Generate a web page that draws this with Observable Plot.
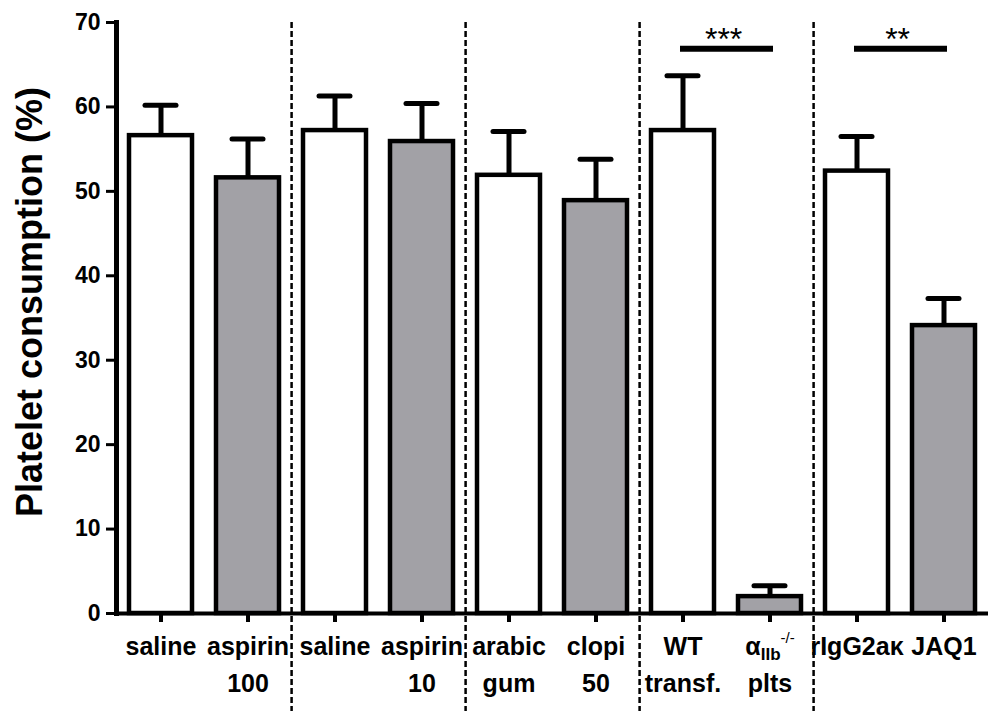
<!DOCTYPE html>
<html>
<head>
<meta charset="utf-8">
<script src="https://cdn.jsdelivr.net/npm/d3@7"></script>
<script src="https://cdn.jsdelivr.net/npm/@observablehq/plot@0.6"></script>
<style>
  html, body { margin: 0; padding: 0; background: #fff; }
  svg { font-family: "Liberation Sans", Arial, Helvetica, sans-serif; }
</style>
</head>
<body>
<div id="chart"></div>
<script>
// ---- data ----
const keys    = ["s1", "a100", "s2", "a10", "ag", "c50", "wt", "aIIb", "igg", "jaq1"];
const labels  = ["saline", "aspirin\n100", "saline", "aspirin\n10", "arabic\ngum", "clopi\n50", "WT\ntransf.", "αIIb-/-\nplts", "rIgG2aκ", "JAQ1"];
const means   = [56.6, 51.6, 57.2, 55.9, 51.9, 48.9, 57.2, 2.0, 52.4, 34.1];
const sems    = [3.6, 4.6, 4.1, 4.5, 5.2, 4.9, 6.5, 1.3, 4.1, 3.2];
const groups  = ["control", "treated", "control", "treated", "control", "treated", "control", "treated", "control", "treated"];
const separatorsAfter = ["a100", "a10", "c50", "aIIb"];
const sigFrom  = ["wt", "igg"];
const sigTo    = ["aIIb", "jaq1"];
const sigLevel = [66.9, 66.9];
const sigStars = ["***", "**"];
const starLevel = [66.8, 66.8];
const yTicks  = [0, 10, 20, 30, 40, 50, 60, 70];

// ---- tables built from the arrays ----
const bars = keys.map((k, i) => ({key: k, mean: means[i], upper: means[i] + sems[i], group: groups[i]}));
const sigs = sigFrom.map((f, i) => ({from: f, to: sigTo[i], y: sigLevel[i], starY: starLevel[i], stars: sigStars[i]}));
const labelOf = new Map(keys.map((k, i) => [k, labels[i]]));

const W = 995, H = 711, mL = 116, mR = 7, mT = 22, mB = 98;
const step = (W - mL - mR) / keys.length;

const chart = Plot.plot({
  width: W,
  height: H,
  marginLeft: mL,
  marginRight: mR,
  marginTop: mT,
  marginBottom: mB,
  style: {background: "white", color: "black", fontFamily: "Liberation Sans, Arial, Helvetica, sans-serif"},
  x: {domain: keys, paddingInner: 0.28, paddingOuter: 0.14, axis: null},
  y: {domain: [0, 70], axis: null},
  color: {domain: ["control", "treated"], range: ["white", "#a2a1a6"]},
  marks: [
    // group separators
    Plot.ruleX(separatorsAfter, {x: d => d, dx: step / 2, stroke: "black", strokeWidth: 2.5, strokeDasharray: "6,3", insetBottom: -mB}),
    // error bars
    Plot.ruleX(bars, {x: "key", y1: "mean", y2: "upper", stroke: "black", strokeWidth: 5}),
    Plot.tickY(bars, {x: "key", y: "upper", stroke: "black", strokeWidth: 5, strokeLinecap: "round", insetLeft: 16, insetRight: 16}),
    // bars
    Plot.barY(bars, {x: "key", y: "mean", fill: "group", stroke: "black", strokeWidth: 4.5, strokeLinejoin: "miter"}),
    // y axis
    Plot.axisY({ticks: yTicks, tickSize: 10, tickPadding: 6, strokeWidth: 3, fontSize: 23, fontWeight: "bold", label: null}),
    Plot.frame({anchor: "left", stroke: "black", strokeWidth: 5}),
    // x baseline and axis
    Plot.ruleY([0], {stroke: "black", strokeWidth: 4}),
    Plot.axisX({tickSize: 9, tickPadding: 6, strokeWidth: 4, fontSize: 25, fontWeight: "bold", lineHeight: 1.48, tickFormat: k => labelOf.get(k), label: null}),
    // y label
    Plot.text(["Platelet consumption (%)"], {frameAnchor: "left", rotate: -90, dx: -75, dy: -16, fontSize: 36, fontWeight: "bold", lineAnchor: "bottom", textAnchor: "middle"}),
    // significance
    Plot.link(sigs, {x1: "from", x2: "to", y1: "y", y2: "y", stroke: "black", strokeWidth: 6, strokeLinecap: "square"}),
    Plot.text(sigs, {x: d => d.from, dx: step / 2 - 3, y: "starY", text: "stars", fontSize: 32, lineAnchor: "bottom", textAnchor: "middle"})
  ]
});

document.getElementById("chart").appendChild(chart);

// subscript / superscript for the αIIb-/- label
d3.select(chart).selectAll("tspan, text").each(function () {
  if (this.childElementCount === 0 && this.textContent === "αIIb-/-") {
    this.innerHTML = 'α<tspan font-size="17" baseline-shift="-5">IIb</tspan><tspan font-size="15" font-weight="normal" baseline-shift="12">-/-</tspan>';
  }
});
</script>
</body>
</html>
